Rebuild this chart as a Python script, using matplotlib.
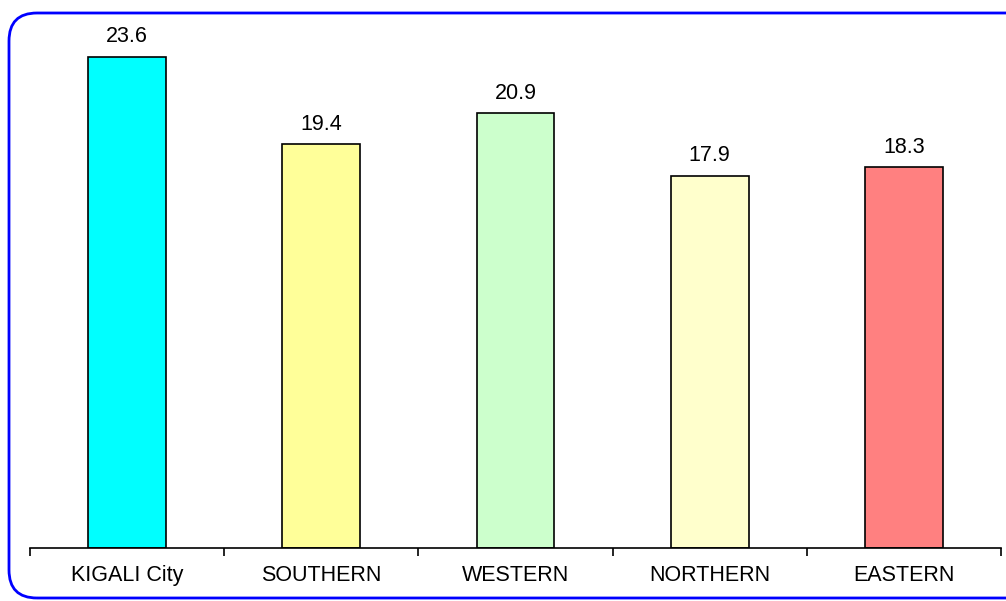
import matplotlib.pyplot as plt
from matplotlib.patches import FancyBboxPatch
import numpy as np

regions = ["KIGALI City", "SOUTHERN", "WESTERN", "NORTHERN", "EASTERN"]
values = [23.6, 19.4, 20.9, 17.9, 18.3]
colors = ["#00ffff", "#ffff99", "#ccffcc", "#ffffcc", "#ff8080"]

plt.rcParams['font.family'] = ['Liberation Sans', 'DejaVu Sans']

W, H = 1006, 601
fig = plt.figure(figsize=(W / 100, H / 100), dpi=100)

# rounded blue frame (inches)
frame = FancyBboxPatch((0.09, 0.03), 12.0, 5.85,
                       boxstyle="round,pad=0,rounding_size=0.28",
                       transform=fig.dpi_scale_trans, facecolor="none",
                       edgecolor="#0000ff", linewidth=2, zorder=-1)
fig.patches.append(frame)

ax = fig.add_axes([30 / W, 53 / H, 971 / W, (548 - 28) / H])
ax.set_facecolor("none")
x = np.arange(len(regions))
bars = ax.bar(x, values, width=0.4, color=colors, edgecolor="black", linewidth=1.2)
for xi, v in zip(x, values):
    ax.annotate(f"{v:.1f}", (xi, v), xytext=(0, 7), textcoords="offset points",
                ha="center", va="bottom", fontsize=15.5)

ax.set_xlim(-0.5, len(regions) - 0.5)
ax.set_ylim(0, 25)
for s in ["top", "right", "left"]:
    ax.spines[s].set_visible(False)
ax.spines["bottom"].set_linewidth(1.2)
ax.set_yticks([])
ax.set_xticks(x)
ax.set_xticklabels(regions, fontsize=15.5)
ax.tick_params(axis="x", which="major", length=0, pad=12)
ax.set_xticks(np.arange(-0.5, len(regions)), minor=True)
ax.tick_params(axis="x", which="minor", length=6, width=1.2, direction="out")

fig.savefig("out.png", dpi=100)
